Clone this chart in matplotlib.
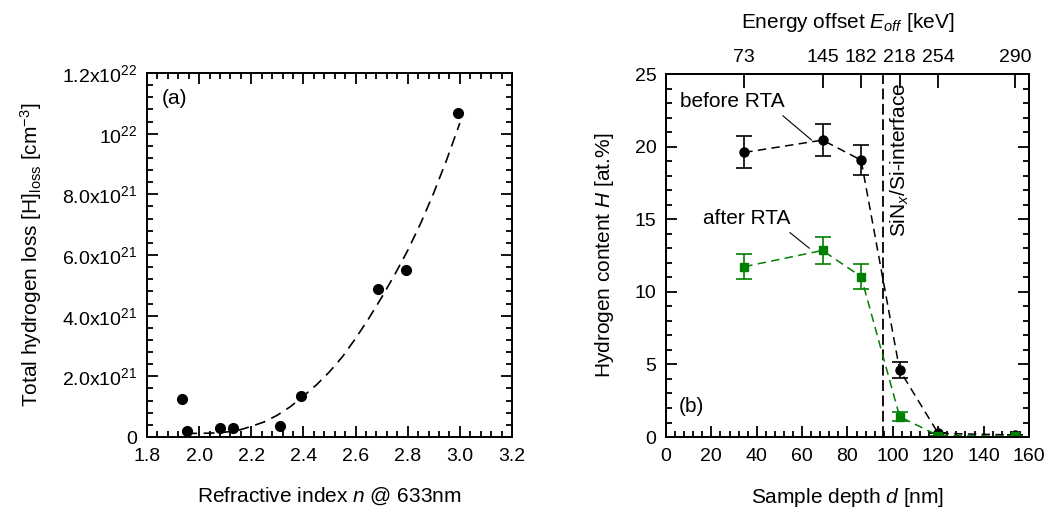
import matplotlib

matplotlib.use("Agg")
import matplotlib.pyplot as plt
from matplotlib.ticker import MultipleLocator, NullLocator

plt.rcParams["font.family"] = ["Liberation Sans", "DejaVu Sans"]
plt.rcParams["mathtext.fontset"] = "custom"
plt.rcParams["mathtext.rm"] = "Liberation Sans"
plt.rcParams["mathtext.it"] = "Liberation Sans:italic"

# (a) hydrogen loss vs refractive index
n_idx = [1.933, 1.952, 2.08, 2.131, 2.31, 2.39, 2.685, 2.793, 2.994]
h_loss = [1.24e21, 2.0e20, 3.1e20, 2.9e20, 3.7e20, 1.36e21, 4.88e21, 5.5e21, 1.067e22]
# dashed fit curve
fit_n = [1.95, 2.00, 2.05, 2.10, 2.15, 2.20, 2.25, 2.30, 2.35, 2.40, 2.45,
         2.50, 2.55, 2.60, 2.65, 2.70, 2.75, 2.80, 2.85, 2.90, 2.95, 3.00]
fit_h = [0.12e21, 0.12e21, 0.13e21, 0.16e21, 0.22e21, 0.35e21, 0.50e21, 0.72e21,
         1.00e21, 1.35e21, 1.72e21, 2.15e21, 2.65e21, 3.25e21, 3.90e21, 4.60e21,
         5.35e21, 6.15e21, 7.05e21, 8.05e21, 9.15e21, 10.35e21]
ya_ticks = [0, 2e21, 4e21, 6e21, 8e21, 1e22, 1.2e22]
ya_labels = ["0", "2.0x10$^{21}$", "4.0x10$^{21}$", "6.0x10$^{21}$",
             "8.0x10$^{21}$", "10$^{22}$", "1.2x10$^{22}$"]

# (b) hydrogen content vs depth
depth = [34.5, 69, 86, 103, 120, 154]
energy = ["73", "145", "182", "218", "254", "290"]
h_before = [19.6, 20.45, 19.07, 4.6, 0.25, 0.14]
err_before = [1.1, 1.1, 1.05, 0.55, 0.0, 0.0]
h_after = [11.73, 12.85, 11.04, 1.4, 0.1, 0.05]
err_after = [0.87, 0.9, 0.87, 0.3, 0.0, 0.0]
interface_d = 95.5

GREEN = "#008000"
FS_TICK = 14
FS_LAB = 15

fig = plt.figure(figsize=(10.47, 5.17), dpi=100)
ax1 = fig.add_axes([0.1404, 0.1547, 0.3486, 0.7041])
ax2 = fig.add_axes([0.6361, 0.1547, 0.3467, 0.7021])


def style(ax):
    for s in ax.spines.values():
        s.set_linewidth(1.4)
    ax.tick_params(which="both", direction="in", width=1.3, labelsize=FS_TICK)
    ax.tick_params(which="major", length=8)
    ax.tick_params(which="minor", length=4.5)
    ax.tick_params(axis="x", pad=8)
    ax.tick_params(axis="y", pad=7)


# ---- panel (a)
ax1.plot(fit_n, fit_h, color="black", lw=1.2, dashes=(6.5, 4))
ax1.plot(n_idx, h_loss, "o", color="black", ms=7)
ax1.set_xlim(1.8, 3.2)
ax1.set_ylim(0, 1.2e22)
ax1.xaxis.set_major_locator(MultipleLocator(0.2))
ax1.xaxis.set_minor_locator(MultipleLocator(0.04))
ax1.xaxis.set_major_formatter(plt.FormatStrFormatter("%.1f"))
ax1.set_yticks(ya_ticks, ya_labels)
ax1.yaxis.set_minor_locator(MultipleLocator(4e20))
style(ax1)
ax1.tick_params(which="both", top=True, right=True)
ax1.set_xlabel("Refractive index $n$ @ 633nm", fontsize=FS_LAB, labelpad=15)
ax1.set_ylabel(r"Total hydrogen loss [H]$_{\mathrm{loss}}$ [cm$^{-3}$]",
               fontsize=FS_LAB, labelpad=13)
ax1.text(0.04, 0.93, "(a)", transform=ax1.transAxes, fontsize=FS_LAB, va="center", ha="left")

# ---- panel (b)
ax2.axvline(interface_d, color="black", lw=1.3, dashes=(6, 2.5))
ax2.errorbar(depth, h_before, yerr=err_before, fmt="o", color="black", ms=6.5,
             capsize=5.5, elinewidth=1.2, capthick=1.2, ls=(0, (5.5, 3.5)), lw=1.1)
ax2.errorbar(depth, h_after, yerr=err_after, fmt="s", color=GREEN, ms=6,
             capsize=5.5, elinewidth=1.2, capthick=1.2, ls=(0, (5.5, 3.5)), lw=1.1)
ax2.set_xlim(0, 160)
ax2.set_ylim(0, 25)
ax2.xaxis.set_major_locator(MultipleLocator(20))
ax2.xaxis.set_minor_locator(MultipleLocator(4))
ax2.yaxis.set_major_locator(MultipleLocator(5))
ax2.yaxis.set_minor_locator(MultipleLocator(1))
style(ax2)
ax2.tick_params(which="both", top=False, right=True)
ax2.set_xlabel("Sample depth $d$ [nm]", fontsize=FS_LAB, labelpad=15)
ax2.set_ylabel("Hydrogen content $H$ [at.%]", fontsize=FS_LAB, labelpad=13)
ax2.text(0.035, 0.085, "(b)", transform=ax2.transAxes, fontsize=FS_LAB, va="center", ha="left")

ax2.annotate("before RTA", xy=(64.2, 20.45), xytext=(6.2, 23.1),
             fontsize=FS_LAB, va="center", ha="left",
             arrowprops=dict(arrowstyle="-", color="black", lw=0.8, relpos=(0.93, 0.0),
                             shrinkA=2, shrinkB=0))
ax2.annotate("after RTA", xy=(63.2, 13.0), xytext=(16.3, 15.05),
             fontsize=FS_LAB, va="center", ha="left",
             arrowprops=dict(arrowstyle="-", color="black", lw=0.8, relpos=(0.93, 0.0),
                             shrinkA=2, shrinkB=0))
ax2.text(interface_d + 2.5, 24.4, "SiN$_x$/Si-interface", rotation=90, fontsize=FS_LAB,
         va="top", ha="left")

top = ax2.twiny()
top.set_xlim(ax2.get_xlim())
top.set_xticks(depth, energy)
top.xaxis.set_minor_locator(NullLocator())
for s in top.spines.values():
    s.set_linewidth(1.4)
top.tick_params(axis="x", direction="in", length=10, width=1.3, labelsize=FS_TICK, pad=6)
top.set_xlabel("Energy offset $E_{off}$ [keV]", fontsize=FS_LAB, labelpad=15)

fig.savefig("out.png", dpi=100)
